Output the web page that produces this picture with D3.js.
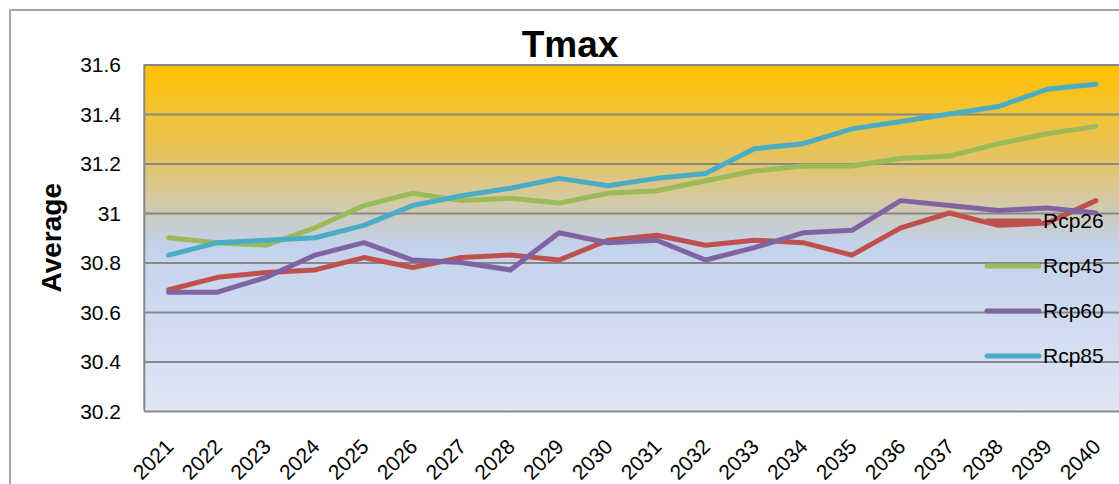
<!DOCTYPE html>
<html>
<head>
<meta charset="utf-8">
<script src="https://cdn.jsdelivr.net/npm/d3@7"></script>
<style>
  html, body { margin: 0; padding: 0; background: #ffffff; }
  svg { display: block; }
</style>
</head>
<body>
<svg id="chart" width="1119" height="484"></svg>
<script>
// ---- data ----
const years = ["2021","2022","2023","2024","2025","2026","2027","2028","2029","2030",
               "2031","2032","2033","2034","2035","2036","2037","2038","2039","2040"];
const rcp26 = [30.69,30.74,30.76,30.77,30.82,30.78,30.82,30.83,30.81,30.89,
               30.91,30.87,30.89,30.88,30.83,30.94,31.00,30.95,30.96,31.05];
const rcp45 = [30.90,30.88,30.87,30.94,31.03,31.08,31.05,31.06,31.04,31.08,
               31.09,31.13,31.17,31.19,31.19,31.22,31.23,31.28,31.32,31.35];
const rcp60 = [30.68,30.68,30.74,30.83,30.88,30.81,30.80,30.77,30.92,30.88,
               30.89,30.81,30.86,30.92,30.93,31.05,31.03,31.01,31.02,31.00];
const rcp85 = [30.83,30.88,30.89,30.90,30.95,31.03,31.07,31.10,31.14,31.11,
               31.14,31.16,31.26,31.28,31.34,31.37,31.40,31.43,31.50,31.52];
const seriesNames = ["Rcp26","Rcp45","Rcp60","Rcp85"];
const seriesColors = ["#C0504D","#9BBB59","#8064A2","#4BACC6"];
const yTicks = [30.2,30.4,30.6,30.8,31.0,31.2,31.4,31.6];
const yTickLabels = ["30.2","30.4","30.6","30.8","31","31.2","31.4","31.6"];
const chartTitle = "Tmax";
const yTitle = "Average";

const seriesValues = [rcp26, rcp45, rcp60, rcp85];

// ---- layout ----
const svg = d3.select("#chart");
const plot = { left: 144.3, top: 64.5, right: 144.3 + 976, bottom: 411 };
const font = "'Liberation Sans', Arial, sans-serif";

const x = d3.scaleBand().domain(years).range([plot.left, plot.right]).padding(0);
const y = d3.scaleLinear().domain([30.2, 31.6]).range([plot.bottom, plot.top]);
const cx = d => x(d) + x.bandwidth() / 2;

// outer chart border
svg.append("rect")
  .attr("x", 10).attr("y", 10).attr("width", 1200).attr("height", 600)
  .attr("fill", "#ffffff").attr("stroke", "#a6a6a6").attr("stroke-width", 2);

// plot background gradient
const defs = svg.append("defs");
const grad = defs.append("linearGradient").attr("id", "bg")
  .attr("x1", 0).attr("y1", 0).attr("x2", 0).attr("y2", 1);
[[0, "#FFC000"], [0.14, "#F3C332"], [0.28, "#E3C466"], [0.40, "#D3CAA8"],
 [0.45, "#C9CBC6"], [0.52, "#C3D2EC"], [1, "#DFE6F5"]]
  .forEach(([o, c]) => grad.append("stop").attr("offset", o).attr("stop-color", c));

svg.append("rect")
  .attr("x", plot.left).attr("y", plot.top)
  .attr("width", plot.right - plot.left).attr("height", plot.bottom - plot.top)
  .attr("fill", "url(#bg)");

// gridlines via axis
const yAxisGrid = d3.axisLeft(y).tickValues(yTicks)
  .tickSize(-(plot.right - plot.left)).tickFormat("");
const gGrid = svg.append("g").attr("transform", `translate(${plot.left},0)`).call(yAxisGrid);
gGrid.select(".domain").remove();
gGrid.selectAll("line").attr("stroke", "#878787").attr("stroke-width", 2);

// left & bottom axis lines
svg.append("line").attr("x1", plot.left).attr("x2", plot.left)
  .attr("y1", plot.top).attr("y2", plot.bottom)
  .attr("stroke", "#878787").attr("stroke-width", 2);

// y tick labels
const yAxis = d3.axisLeft(y).tickValues(yTicks).tickSize(0).tickPadding(0)
  .tickFormat((d, i) => yTickLabels[i]);
const gy = svg.append("g").attr("transform", `translate(121,0)`).call(yAxis);
gy.select(".domain").remove();
gy.selectAll("text").attr("font-family", font).attr("font-size", 21)
  .attr("fill", "#000").attr("dy", "0.35em");

// x tick labels
const xAxis = d3.axisBottom(x).tickSize(0).tickPadding(0);
const gx = svg.append("g").attr("transform", `translate(0,0)`).call(xAxis);
gx.select(".domain").remove();
gx.selectAll(".tick").attr("transform", null);
gx.selectAll("text")
  .attr("font-family", font).attr("font-size", 21).attr("fill", "#000")
  .attr("text-anchor", "end").attr("dy", null).attr("y", null)
  .attr("transform", d => `translate(${cx(d) + 6},448) rotate(-45)`);

// lines
const line = d3.line().x((d, i) => cx(years[i])).y(d => y(d));
seriesValues.forEach((vals, k) => {
  svg.append("path").datum(vals)
    .attr("d", line)
    .attr("fill", "none")
    .attr("stroke", seriesColors[k])
    .attr("stroke-width", 5)
    .attr("stroke-linecap", "round")
    .attr("stroke-linejoin", "round");
});

// legend
const legendY = d3.scalePoint().domain(seriesNames).range([221, 356]);
const lg = svg.append("g");
seriesNames.forEach((name, k) => {
  const ly = legendY(name);
  lg.append("line").attr("x1", 987).attr("x2", 1039).attr("y1", ly).attr("y2", ly)
    .attr("stroke", seriesColors[k]).attr("stroke-width", 5).attr("stroke-linecap", "round");
  lg.append("text").attr("x", 1043).attr("y", ly).attr("dy", "0.35em")
    .attr("font-family", font).attr("font-size", 21).attr("fill", "#000").text(name);
});

// title
svg.append("text").attr("x", 570).attr("y", 57).attr("text-anchor", "middle")
  .attr("font-family", font).attr("font-weight", "bold").attr("font-size", 37)
  .attr("fill", "#000").text(chartTitle);

// y axis title
svg.append("text")
  .attr("transform", `translate(61,${(plot.top + plot.bottom) / 2}) rotate(-90)`)
  .attr("text-anchor", "middle")
  .attr("font-family", font).attr("font-weight", "bold").attr("font-size", 28)
  .attr("fill", "#000").text(yTitle);
</script>
</body>
</html>
